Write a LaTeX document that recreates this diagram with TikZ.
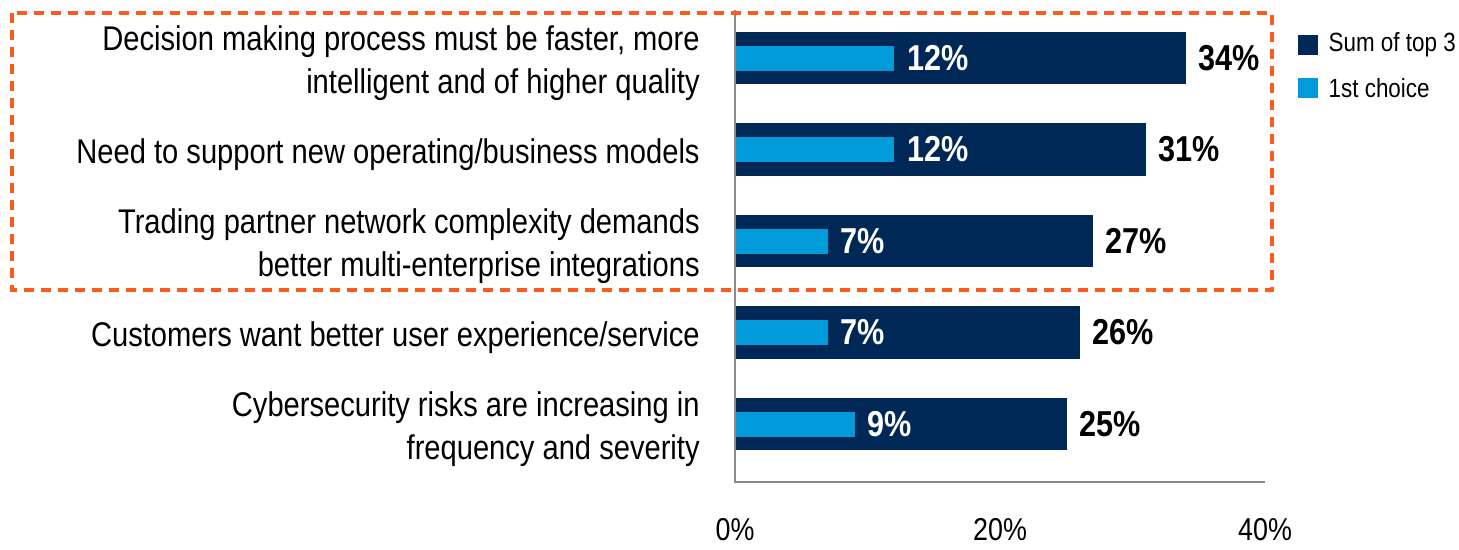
\documentclass[tikz,border=0pt]{standalone}
\usepackage{fontspec}
\setmainfont[FakeStretch=0.85]{Liberation Sans}
\usetikzlibrary{positioning}
\definecolor{navy}{HTML}{002856}
\definecolor{skyblue}{HTML}{009BD8}
\definecolor{dashorange}{HTML}{FF5A1E}
\definecolor{axisgray}{HTML}{8A8A8A}

\tikzset{
    sumbar/.style={rectangle, fill=navy, inner sep=0pt, minimum height=1.05cm, anchor=west},
    firstbar/.style={rectangle, fill=skyblue, inner sep=0pt, minimum height=0.5cm, anchor=west},
    rowlabel/.style={align=right, inner sep=0pt, yshift=-0.1cm, font=\fontsize{19.5}{24.5}\selectfont},
    sumval/.style={inner sep=0pt, font=\bfseries\fontsize{20.5}{24}\selectfont},
    firstval/.style={inner sep=0pt, text=white, font=\bfseries\fontsize{20.5}{24}\selectfont},
    legbox/.style={rectangle, inner sep=0pt, minimum width=0.4cm, minimum height=0.4cm},
    legtext/.style={inner sep=0pt, font=\fontsize{15}{18}\selectfont},
    ticklabel/.style={inner sep=0pt, font=\fontsize{18}{20}\selectfont}
}

\begin{document}
\begin{tikzpicture}[x=0.02cm, y=-0.02cm, node distance=0.24cm]
        \useasboundingbox (0,0) rectangle (1459,549);

        % Draw the bars (13.25 px per percent)
        \node (decisionsum)   [sumbar, minimum width=34*0.265cm] at (735,58) {};
        \node (supportsum)    [sumbar, minimum width=31*0.265cm] at (735,149.5) {};
        \node (tradingsum)    [sumbar, minimum width=27*0.265cm] at (735,241) {};
        \node (customerssum)  [sumbar, minimum width=26*0.265cm] at (735,332.5) {};
        \node (cybersum)      [sumbar, minimum width=25*0.265cm] at (735,424) {};

        \node (decisionfirst)  [firstbar, minimum width=12*0.265cm] at (735,58) {};
        \node (supportfirst)   [firstbar, minimum width=12*0.265cm] at (735,149.5) {};
        \node (tradingfirst)   [firstbar, minimum width=7*0.265cm] at (735,241) {};
        \node (customersfirst) [firstbar, minimum width=7*0.265cm] at (735,332.5) {};
        \node (cyberfirst)     [firstbar, minimum width=9*0.265cm] at (735,424) {};

        % Add the values
        \node (decisionsumval)  [sumval, right=of decisionsum] {34\%};
        \node (supportsumval)   [sumval, right=of supportsum] {31\%};
        \node (tradingsumval)   [sumval, right=of tradingsum] {27\%};
        \node (customerssumval) [sumval, right=of customerssum] {26\%};
        \node (cybersumval)     [sumval, right=of cybersum] {25\%};

        \node (decisionfirstval)  [firstval, right=of decisionfirst] {12\%};
        \node (supportfirstval)   [firstval, right=of supportfirst] {12\%};
        \node (tradingfirstval)   [firstval, right=of tradingfirst] {7\%};
        \node (customersfirstval) [firstval, right=of customersfirst] {7\%};
        \node (cyberfirstval)     [firstval, right=of cyberfirst] {9\%};

        % Add the row labels
        \node (decision)  [rowlabel, left=0.7cm of decisionsum] {Decision making process must be faster, more\\intelligent and of higher quality};
        \node (support)   [rowlabel, left=0.7cm of supportsum] {Need to support new operating/business models};
        \node (trading)   [rowlabel, left=0.7cm of tradingsum] {Trading partner network complexity demands\\better multi-enterprise integrations};
        \node (customers) [rowlabel, left=0.7cm of customerssum] {Customers want better user experience/service};
        \node (cyber)     [rowlabel, left=0.7cm of cybersum] {Cybersecurity risks are increasing in\\frequency and severity};

        % Draw the axes
        \coordinate (axistop) at (735,10);
        \coordinate (origin) at (735,482);
        \coordinate (axisend) at (1265,482);
        \draw [axisgray, line width=0.04cm] (axistop) -- (origin) -- (axisend);

        \node (tickzero)  [ticklabel] at (735,530) {0\%};
        \node (twenty)    [ticklabel] at (1000,530) {20\%};
        \node (forty)     [ticklabel] at (1265,530) {40\%};

        % Draw the dashed box
        \draw [dashorange, line width=0.08cm, dash pattern=on 0.2cm off 0.14cm] (12,13) rectangle (1272,290);

        % Add the legend
        \node (sumkey)   [legbox, fill=navy] at (1308,45) {};
        \node (firstkey) [legbox, fill=skyblue] at (1308,88) {};
        \node (sumtext)   [legtext, right=0.2cm of sumkey] {Sum of top 3};
        \node (firsttext) [legtext, right=0.2cm of firstkey] {1st choice};
    \end{tikzpicture}
\end{document}
